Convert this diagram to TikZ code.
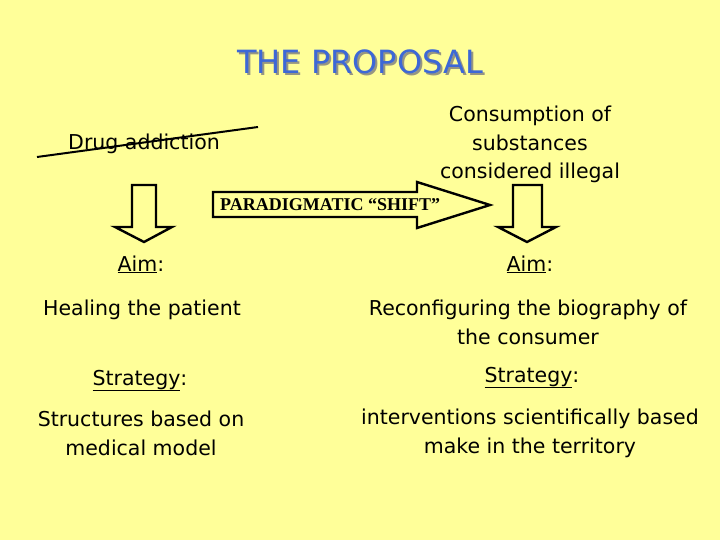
\documentclass[tikz,border=0pt]{standalone}
\usepackage{fontspec}
\setmainfont{DejaVu Sans}
\newfontfamily\shiftfont{Liberation Serif}
\usepackage{xcolor}
\usetikzlibrary{positioning}
\definecolor{slideyellow}{RGB}{255,255,153}
\definecolor{titleblue}{RGB}{61,104,214}
\definecolor{titleshadow}{RGB}{150,150,130}

\begin{document}
\begin{tikzpicture}[
        x=1pt, y=-1pt,
        body/.style={font=\fontsize{20.5}{28.5}\selectfont, inner sep=0pt,
                     align=center, anchor=base},
        title/.style={font=\fontsize{32}{36}\selectfont, inner sep=0pt, anchor=base},
        blockarrow/.style={draw=black, line width=2.4pt, fill=slideyellow, line join=miter}
    ]
    % ---- background ----
    \fill[slideyellow] (0,0) rectangle (720,540);
    \useasboundingbox (0,0) rectangle (720,540);

    % ---- title ----
    \node[title, text=titleshadow] at (362,76) {THE PROPOSAL};
    \node[title, text=titleblue] (title) at (360,74) {THE PROPOSAL};

    % ---- old / new paradigm ----
    \node[body] (drug) at (144,150) {Drug addiction};
    \draw[line width=2pt] (37,157) -- (258,127);
    \node[body] (consumption) at (530,179) {Consumption of\\substances\\considered illegal};

    % ---- down arrows ----
    \draw[blockarrow] (132,185) -- (156,185) -- (156,227) -- (172,227) -- (144,242)
        -- (115,227) -- (132,227) -- cycle;
    \draw[blockarrow] (513,185) -- (542,185) -- (542,227) -- (556,227) -- (527,242)
        -- (498,227) -- (513,227) -- cycle;

    % ---- shift arrow ----
    \draw[blockarrow] (213,192) -- (417,192) -- (417,182) -- (490,205) -- (417,228)
        -- (417,217) -- (213,217) -- cycle;
    \node[anchor=base west, inner sep=0pt, font=\shiftfont\bfseries\fontsize{18}{20}\selectfont]
        (shift) at (220,211) {PARADIGMATIC “SHIFT”};

    % ---- left column ----
    \node[body] (aimleft) at (141,271) {\underline{Aim}:};
    \node[body] (healing) at (142,315) {Healing the patient};
    \node[body] (stratleft) at (140,385) {\underline{Strategy}:};
    \node[body] (structures) at (141,455) {Structures based on\\medical model};

    % ---- right column ----
    \node[body] (aimright) at (530,271) {\underline{Aim}:};
    \node[body] (reconf) at (528,344) {Reconfiguring the biography of\\the consumer};
    \node[body] (stratright) at (532,382) {\underline{Strategy}:};
    \node[body] (interv) at (530,453) {interventions scientifically based\\make in the territory};
\end{tikzpicture}
\end{document}
